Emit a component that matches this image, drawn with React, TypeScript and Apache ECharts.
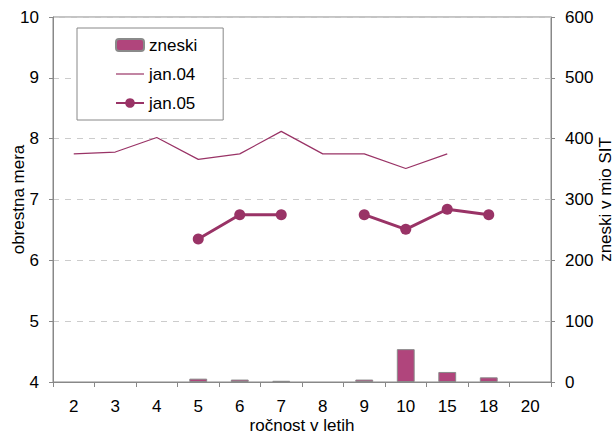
import React, { useEffect, useRef } from "react";
import * as echarts from "echarts";

const categories = ["2", "3", "4", "5", "6", "7", "8", "9", "10", "15", "18", "20"];
const zneski = [null, null, null, 5.5, 4, 2, null, 4, 54, 16.5, 7.7, null];
const jan04 = [7.75, 7.78, 8.02, 7.66, 7.75, 8.12, 7.75, 7.75, 7.51, 7.75, null, null];
const jan05 = [null, null, null, 6.35, 6.75, 6.75, null, 6.75, 6.51, 6.84, 6.75, null];

const FONT = "Liberation Sans, Arial, sans-serif";
const PLUM = "#993366";
const FS = 17;

export default function App() {
  const ref = useRef<HTMLDivElement>(null);
  useEffect(() => {
    const chart = echarts.init(ref.current!, null, { renderer: "svg" });
    chart.setOption({
      animation: false,
      textStyle: { fontFamily: FONT, color: "#000" },
      grid: {
        left: 53,
        right: 65,
        top: 17,
        bottom: 57,
        outerBoundsMode: "none",
        containLabel: false,
        show: true,
        borderColor: "#888",
        borderWidth: 1,
        backgroundColor: "transparent",
      },
      legend: {
        orient: "vertical",
        left: 77,
        top: 28,
        padding: [8, 26, 8, 38],
        itemWidth: 28,
        itemHeight: 12,
        itemGap: 11,
        backgroundColor: "#fff",
        borderColor: "#888",
        borderWidth: 1,
        borderRadius: 0,
        textStyle: { fontFamily: FONT, fontSize: FS, color: "#000", lineHeight: 18 },
        data: [
          { name: "zneski" },
          { name: "jan.04", icon: "path://M0,0 L28,0 L28,1.2 L0,1.2 Z", itemStyle: { color: PLUM } },
          { name: "jan.05" },
        ],
      },
      xAxis: {
        type: "category",
        data: categories,
        boundaryGap: true,
        name: "ročnost v letih",
        nameLocation: "middle",
        nameGap: 35,
        nameMoveOverlap: false,
        nameTextStyle: { fontFamily: FONT, fontSize: FS, color: "#000" },
        axisLine: { lineStyle: { color: "#888" } },
        axisTick: { show: true, inside: false, length: 5, alignWithLabel: false, lineStyle: { color: "#888" } },
        axisLabel: { fontFamily: FONT, fontSize: FS, color: "#000", margin: 16 },
      },
      yAxis: [
        {
          type: "value",
          min: 4,
          max: 10,
          interval: 1,
          position: "left",
          name: "obrestna mera",
          nameLocation: "middle",
          nameGap: 26,
          nameRotate: 90,
          nameMoveOverlap: false,
          nameTextStyle: { fontFamily: FONT, fontSize: FS, color: "#000" },
          axisLine: { show: true, lineStyle: { color: "#888" } },
          axisTick: { show: true, length: 4, lineStyle: { color: "#888" } },
          axisLabel: { fontFamily: FONT, fontSize: FS, color: "#000", margin: 14 },
          splitLine: { show: true, lineStyle: { color: "#ccc", type: [6, 6], width: 1 } },
        },
        {
          type: "value",
          min: 0,
          max: 600,
          interval: 100,
          position: "right",
          name: "zneski v mio SIT",
          nameLocation: "middle",
          nameGap: 46,
          nameRotate: 90,
          nameMoveOverlap: false,
          nameTextStyle: { fontFamily: FONT, fontSize: FS, color: "#000" },
          axisLine: { show: true, lineStyle: { color: "#888" } },
          axisTick: { show: true, length: 4, lineStyle: { color: "#888" } },
          axisLabel: { fontFamily: FONT, fontSize: FS, color: "#000", margin: 14 },
          splitLine: { show: false },
        },
      ],
      series: [
        {
          name: "zneski",
          type: "bar",
          yAxisIndex: 1,
          data: zneski,
          barWidth: "43%",
          itemStyle: { color: "#b0457c", borderColor: "#8a8a8a", borderWidth: 1 },
        },
        {
          name: "jan.04",
          type: "line",
          yAxisIndex: 0,
          data: jan04,
          symbol: "none",
          lineStyle: { color: PLUM, width: 1.2 },
          itemStyle: { color: PLUM },
        },
        {
          name: "jan.05",
          type: "line",
          yAxisIndex: 0,
          data: jan05,
          symbol: "circle",
          symbolSize: 11,
          connectNulls: false,
          lineStyle: { color: PLUM, width: 3 },
          itemStyle: { color: PLUM },
        },
      ],
    });
    return () => chart.dispose();
  }, []);
  return <div ref={ref} style={{ width: 616, height: 439, position: "absolute", left: 0, top: 0 }} />;
}
